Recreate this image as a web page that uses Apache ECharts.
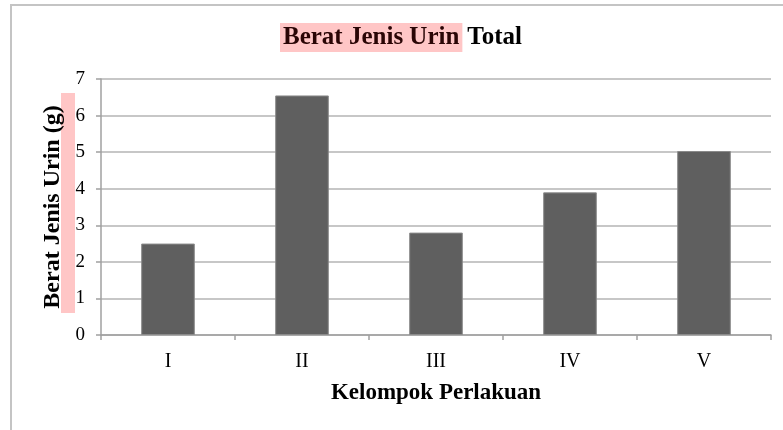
<!DOCTYPE html>
<html>
<head>
<meta charset="utf-8">
<script src="https://cdn.jsdelivr.net/npm/echarts@6/dist/echarts.min.js"></script>
<style>html,body{margin:0;padding:0;background:#fff}#c{width:783px;height:430px}</style>
</head>
<body>
<div id="c"></div>
<script>
const categories = ['I', 'II', 'III', 'IV', 'V'];
const values = [2.5, 6.55, 2.8, 3.9, 5.03];
const yTicks = [0, 1, 2, 3, 4, 5, 6, 7];

const chart = echarts.init(document.getElementById('c'), null, {renderer: 'canvas'});
const serif = '"Liberation Serif", "DejaVu Serif", serif';
chart.setOption({
  animation: false,
  backgroundColor: '#fff',
  title: {
    text: '{hl|Berat Jenis Urin} {n|Total}',
    left: 280,
    top: 25,
    padding: 0,
    textStyle: {
      rich: {
        hl: {fontFamily: serif, fontWeight: 'bold', fontSize: 25, color: '#2a0505', backgroundColor: '#ffc6c6', padding: [2, 3, 2, 3], lineHeight: 25},
        n: {fontFamily: serif, fontWeight: 'bold', fontSize: 25, color: '#000', lineHeight: 25}
      }
    }
  },
  graphic: [
    {type: 'polyline', shape: {points: [[11, 430], [11, 5], [783, 5]]}, style: {stroke: '#c4c4c4', lineWidth: 2, fill: null}, z: 0},
    {type: 'rect', shape: {x: 61, y: 93, width: 14, height: 220}, style: {fill: '#ffc6c6'}, z: 0}
  ],
  grid: {left: 101, right: 12, top: 79, bottom: 95, containLabel: false},
  xAxis: {
    type: 'category',
    data: categories,
    name: 'Kelompok Perlakuan',
    nameLocation: 'middle',
    nameGap: 47,
    nameTextStyle: {fontFamily: serif, fontWeight: 'bold', fontSize: 23, color: '#000'},
    axisLine: {lineStyle: {color: '#a0a0a0', width: 1.5}},
    axisTick: {show: true, length: 5, lineStyle: {color: '#a0a0a0', width: 1.5}},
    axisLabel: {fontFamily: serif, fontSize: 20, color: '#000', margin: 17}
  },
  yAxis: {
    type: 'value',
    min: 0, max: 7, interval: 1,
    name: 'Berat Jenis Urin (g)',
    nameLocation: 'middle',
    nameGap: 34,
    nameRotate: 90,
    nameTextStyle: {fontFamily: serif, fontWeight: 'bold', fontSize: 24, color: '#000'},
    axisLine: {show: true, lineStyle: {color: '#a0a0a0', width: 1.5}},
    axisTick: {show: true, length: 5, lineStyle: {color: '#a0a0a0', width: 1.5}},
    splitLine: {lineStyle: {color: '#b4b4b4', width: 1.5}},
    axisLabel: {fontFamily: serif, fontSize: 19, color: '#000', margin: 16,
      formatter: v => yTicks.includes(v) ? String(v) : ''}
  },
  series: [{
    type: 'bar',
    data: values,
    barWidth: '40%',
    itemStyle: {color: '#5f5f5f', borderColor: '#8a8a8a', borderWidth: 1}
  }]
});
</script>
</body>
</html>
